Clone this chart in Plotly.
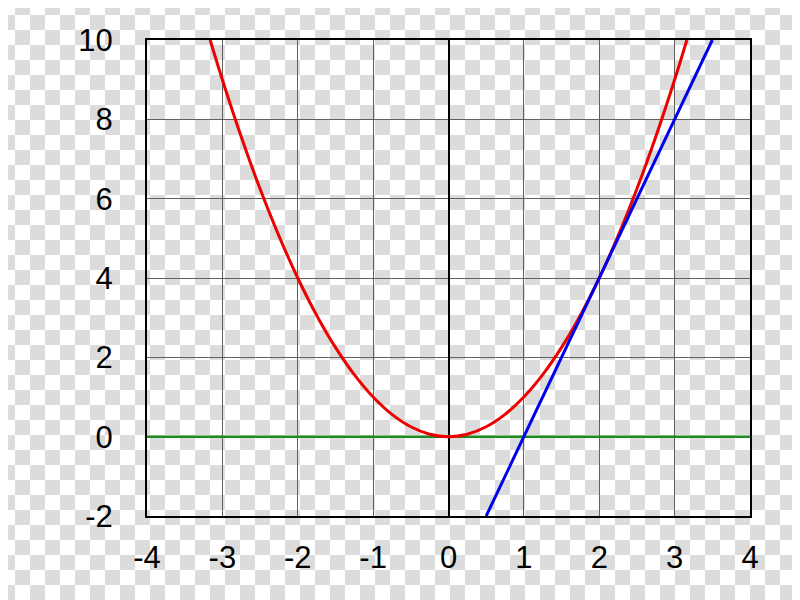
import base64
import plotly.graph_objects as go

# Data
parab_x = [-3.1623, -3.0, -2.75, -2.5, -2.25, -2.0, -1.75, -1.5, -1.25, -1.0, -0.75, -0.5, -0.25, 0.0,
           0.25, 0.5, 0.75, 1.0, 1.25, 1.5, 1.75, 2.0, 2.25, 2.5, 2.75, 3.0, 3.1623]
parab_y = [10.0, 9.0, 7.5625, 6.25, 5.0625, 4.0, 3.0625, 2.25, 1.5625, 1.0, 0.5625, 0.25, 0.0625, 0.0,
           0.0625, 0.25, 0.5625, 1.0, 1.5625, 2.25, 3.0625, 4.0, 5.0625, 6.25, 7.5625, 9.0, 10.0]
tangent_x = [0.5, 3.5]
tangent_y = [-2.0, 10.0]
axis_x = [-4, 4]
axis_y = [0, 0]
x_ticks = [-4, -3, -2, -1, 0, 1, 2, 3, 4]
y_ticks = [-2, 0, 2, 4, 6, 8, 10]

W, H = 800, 600
OFF = 8  # page body margin offset
L, R, T, B = 147 - OFF, 50 + OFF, 40 - OFF, 84 + OFF
pw, ph = W - L - R, H - T - B

svg = ('<svg xmlns="http://www.w3.org/2000/svg" width="800" height="600">'
       '<defs><pattern id="c" x="-8" y="-8" width="30" height="30" patternUnits="userSpaceOnUse">'
       '<rect width="30" height="30" fill="#ffffff"/>'
       '<rect x="15" y="0" width="15" height="15" fill="#dcdcdc"/>'
       '<rect x="0" y="15" width="15" height="15" fill="#dcdcdc"/>'
       '</pattern></defs><rect width="800" height="600" fill="url(#c)"/></svg>')
src = "data:image/svg+xml;base64," + base64.b64encode(svg.encode()).decode()

fig = go.Figure()
fig.add_trace(go.Scatter(x=axis_x, y=axis_y, mode="lines",
                         line=dict(color="#1f8a1f", width=2.5), hoverinfo="skip"))
fig.add_trace(go.Scatter(x=parab_x, y=parab_y, mode="lines", line_shape="spline",
                         line=dict(color="#ee0000", width=3)))
fig.add_trace(go.Scatter(x=tangent_x, y=tangent_y, mode="lines",
                         line=dict(color="#0000ee", width=3)))

fig.add_layout_image(dict(source=src, xref="paper", yref="paper",
                          x=-L / pw, y=(ph + T) / ph, sizex=W / pw, sizey=H / ph,
                          xanchor="left", yanchor="top", sizing="stretch", layer="below"))

font = dict(family="Liberation Sans, Arial, sans-serif", size=31, color="black")
fig.update_layout(
    width=W, height=H, showlegend=False,
    margin=dict(l=L, r=R, t=T, b=B, autoexpand=False),
    paper_bgcolor="white", plot_bgcolor="rgba(0,0,0,0)",
    font=font,
    xaxis=dict(range=[-4, 4], tickmode="array", tickvals=x_ticks,
               ticktext=[str(v) for v in x_ticks], automargin=False,
               showgrid=True, gridcolor="#606060", gridwidth=1,
               zeroline=True, zerolinecolor="black", zerolinewidth=2,
               showline=True, linecolor="black", linewidth=2, mirror=True,
               ticks="outside", ticklen=13, tickcolor="rgba(0,0,0,0)"),
    yaxis=dict(range=[-2, 10], tickmode="array", tickvals=y_ticks,
               ticktext=[str(v) for v in y_ticks], automargin=False,
               showgrid=True, gridcolor="#606060", gridwidth=1,
               zeroline=False,
               showline=True, linecolor="black", linewidth=2, mirror=True,
               ticks="outside", ticklen=26, tickcolor="rgba(0,0,0,0)"),
)

fig.write_html("out.html")
